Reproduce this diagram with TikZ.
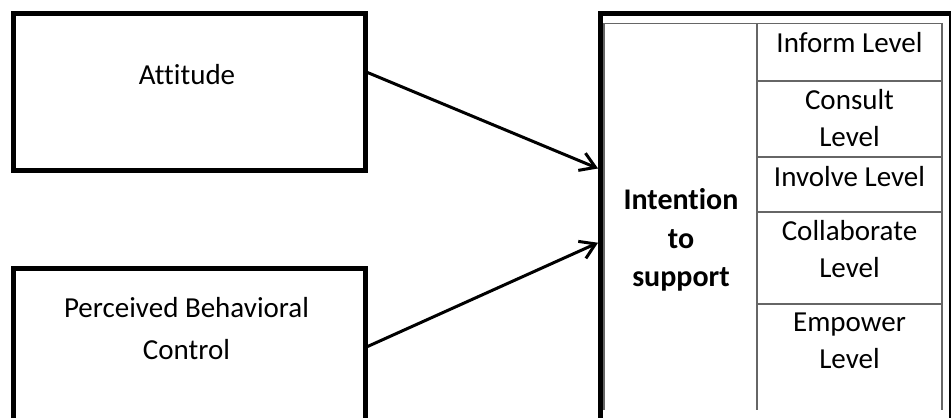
\documentclass[tikz,border=0pt]{standalone}
\usepackage{fontspec}
\setmainfont{Carlito}[Ligatures=NoCommon]
\usetikzlibrary{arrows.meta}

\tikzstyle{factor box}=[draw,rectangle,line width=3.75pt,anchor=north west,minimum width=264pt,inner sep=0pt]
\tikzstyle{factor text}=[align=center,font=\fontsize{21.75}{31.5}\selectfont]
\tikzstyle{level text}=[align=center,font=\fontsize{21.75}{27.75}\selectfont]
\tikzstyle{grid line}=[draw,line width=1pt,black!60]
\tikzstyle{link}=[draw,line width=2.25pt,-{Straight Barb[length=11pt,width=14pt]}]

\begin{document}
\begin{tikzpicture}[x=0.75pt,y=-0.75pt]
		\useasboundingbox (0,0) rectangle (951,418);
		% First we draw the three boxes
		\node[factor box,minimum height=117.75pt] (att) at (10.5,10.5) {};
		\node[factor box,minimum height=150pt] (pbc) at (10.5,265.5) {};
		\node[factor box,minimum width=263.25pt,minimum height=344.6pt] (intent) at (598,10.5) {};
		\node[factor text] (attlabel) at (187,75) {Attitude};
		\node[factor text] (pbclabel) at (186.5,329) {Perceived Behavioral\\Control};
		\node[level text,font=\fontsize{22.5}{28.9}\selectfont\bfseries] (intentlabel) at (681,240) {Intention\\to\\support};
		% Table of levels inside the intention box
		\draw[grid line] (604,410) -- (604,23.3) -- (942,23.3) -- (942,410);
		\draw[grid line] (757,23.3) -- (757,410);
		\foreach \y in {81,157,212,304}
		\draw[grid line] (757,\y) -- (942,\y);
		\node[level text] (inform) at (849.5,43) {Inform Level};
		\node[level text] (consult) at (849.5,118.5) {Consult\\Level};
		\node[level text] (involve) at (849.5,177) {Involve Level};
		\node[level text] (collab) at (849.5,249.5) {Collaborate\\Level};
		\node[level text] (empower) at (849.5,340.5) {Empower\\Level};
		% Connect the boxes with arrows
		\path[link] ([yshift=14.25pt]att.east) to ([yshift=55.7pt]intent.west);
		\path[link] ([yshift=16.1pt]pbc.east) to (intent.west);
\end{tikzpicture}
\end{document}
